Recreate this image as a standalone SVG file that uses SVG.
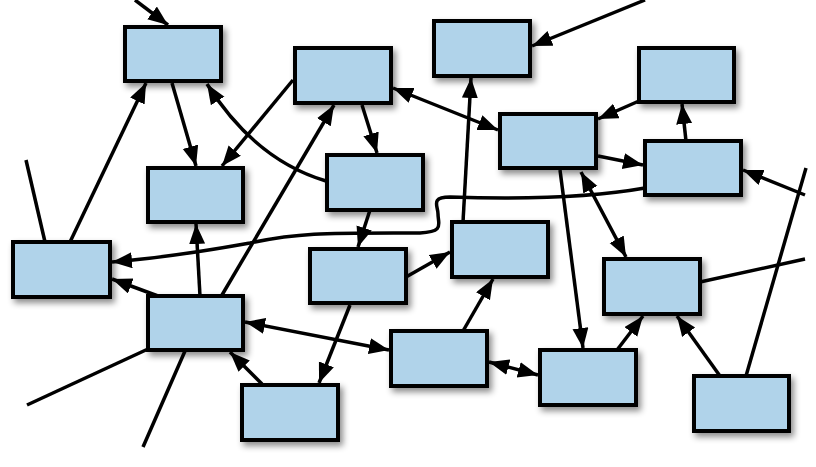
<svg xmlns="http://www.w3.org/2000/svg" width="816" height="467" viewBox="0 0 816 467">
<defs>
<filter id="sh" x="-20%" y="-20%" width="150%" height="160%"><feDropShadow dx="3" dy="4" stdDeviation="3" flood-color="#000" flood-opacity="0.45"/></filter>
<marker id="ah" markerUnits="userSpaceOnUse" markerWidth="22" markerHeight="18" refX="20" refY="8" orient="auto-start-reverse"><path d="M0,0 L20,8 L0,16 Z" fill="#000"/></marker>
</defs>
<style>
.n rect{fill:#b0d3ea;stroke:#000;stroke-width:4;filter:url(#sh)}
#connectors path{fill:none;stroke:#000;stroke-width:3.5}
.a{marker-end:url(#ah)}
.d{marker-start:url(#ah);marker-end:url(#ah)}
</style>
<rect width="816" height="467" fill="#fff"/>
<g id="connectors">
<path class="a" d="M135,0 L168,25"/>
<path d="M26,160 L45,242"/>
<path class="a" d="M70,242 L146,83"/>
<path class="a" d="M172,83 L196,166"/>
<path class="a" d="M293,80 L222,166"/>
<path class="a" d="M326,181 Q255,160 207,84"/>
<path class="a" d="M222,295 L334,105"/>
<path class="a" d="M362,105 L377,153"/>
<path class="d" d="M393,88 L498,130"/>
<path class="a" d="M463,222 L471,78"/>
<path class="a" d="M645,0 L532,46"/>
<path class="a" d="M639,101 L598,119"/>
<path class="a" d="M686,141 L682,104"/>
<path class="a" d="M598,156 L643,165"/>
<path class="a" d="M805,195 L743,170"/>
<path class="a" d="M645,188 C600,196 540,200 450,197 C430,197 438,206 438,214 C438,224 445,232 420,233 C330,233 300,232 250,243 C200,252 160,258 112,262"/>
<path class="a" d="M370,210 L358,247"/>
<path class="a" d="M560,170 L583,348"/>
<path class="d" d="M581,172 L626,257"/>
<path class="a" d="M406,277 L450,252"/>
<path class="a" d="M463,331 L493,279"/>
<path class="a" d="M350,305 L319,383"/>
<path class="a" d="M158,296 L112,279"/>
<path class="a" d="M200,296 L196,224"/>
<path class="d" d="M245,322 L389,350"/>
<path d="M148,349 L27,405"/>
<path d="M185,351 L143,447"/>
<path class="a" d="M262,384 L230,352"/>
<path class="d" d="M489,362 L538,375"/>
<path class="a" d="M617,350 L643,316"/>
<path class="a" d="M720,376 L677,316"/>
<path d="M700,282 L805,259"/>
<path d="M746,376 L806,168"/>
</g>
<g id="nA" class="n"><rect x="125" y="27" width="96" height="54"/></g>
<g id="nB" class="n"><rect x="295" y="48" width="96" height="55"/></g>
<g id="nC" class="n"><rect x="434" y="21" width="96" height="55"/></g>
<g id="nD" class="n"><rect x="639" y="48" width="95" height="54"/></g>
<g id="nE" class="n"><rect x="500" y="114" width="96" height="54"/></g>
<g id="nF" class="n"><rect x="645" y="141" width="96" height="54"/></g>
<g id="nG" class="n"><rect x="148" y="168" width="95" height="54"/></g>
<g id="nH" class="n"><rect x="327" y="155" width="96" height="55"/></g>
<g id="nI" class="n"><rect x="13" y="242" width="97" height="55"/></g>
<g id="nJ" class="n"><rect x="452" y="222" width="96" height="55"/></g>
<g id="nK" class="n"><rect x="310" y="249" width="96" height="54"/></g>
<g id="nL" class="n"><rect x="604" y="259" width="96" height="55"/></g>
<g id="nM" class="n"><rect x="148" y="296" width="95" height="54"/></g>
<g id="nN" class="n"><rect x="391" y="331" width="96" height="55"/></g>
<g id="nO" class="n"><rect x="540" y="350" width="96" height="55"/></g>
<g id="nP" class="n"><rect x="242" y="385" width="96" height="55"/></g>
<g id="nQ" class="n"><rect x="694" y="376" width="95" height="55"/></g>
</svg>
